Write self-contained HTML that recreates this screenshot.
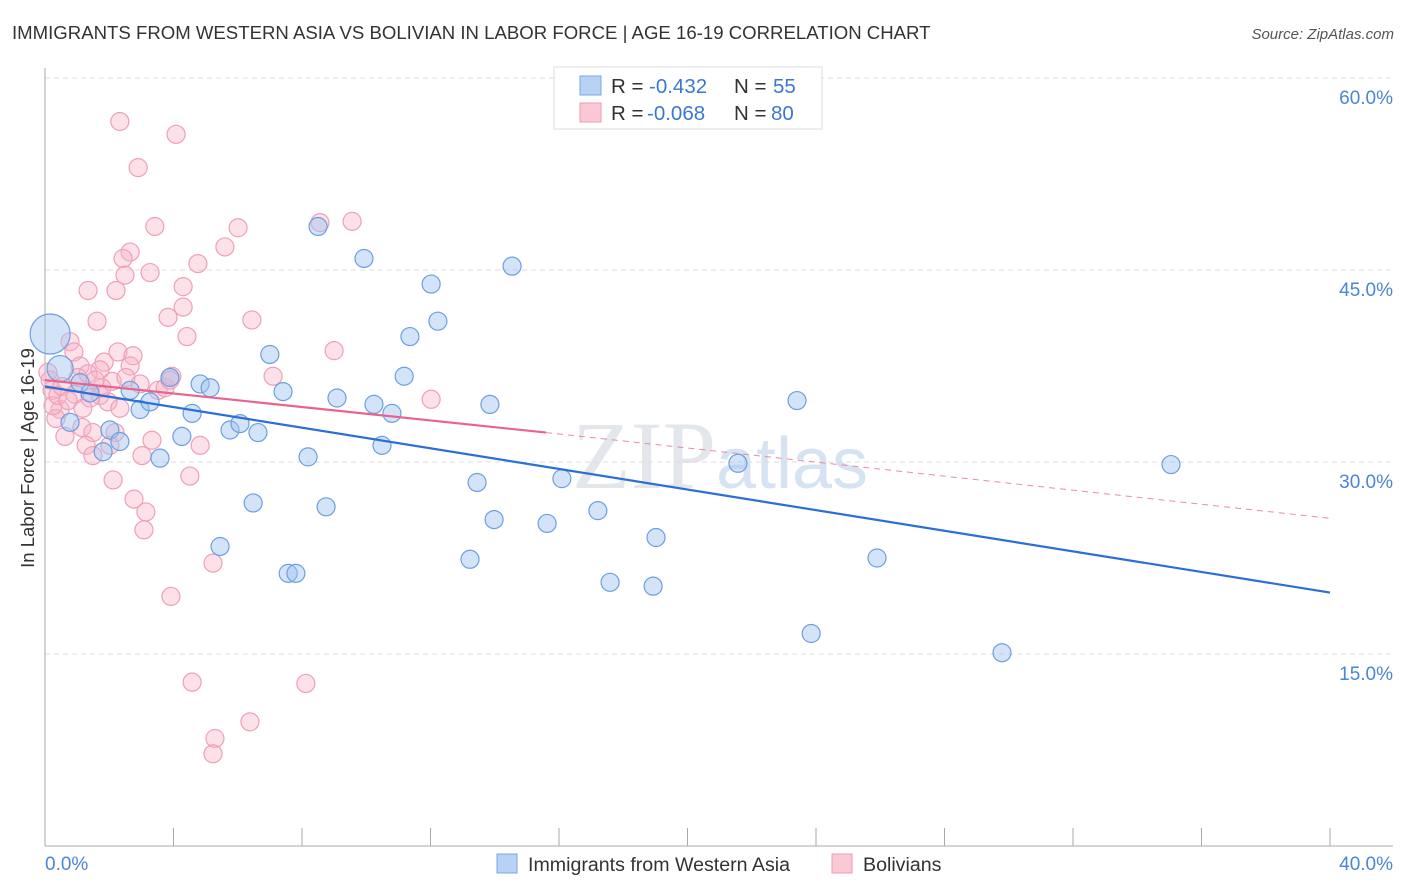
<!DOCTYPE html>
<html><head><meta charset="utf-8"><style>
body{margin:0;background:#fff;font-family:"Liberation Sans",sans-serif;}
svg{display:block}
</style></head><body>
<svg id="c" width="1406" height="892" xmlns="http://www.w3.org/2000/svg">
<text x="12" y="39" font-size="18.6" fill="#333">IMMIGRANTS FROM WESTERN ASIA VS BOLIVIAN IN LABOR FORCE | AGE 16-19 CORRELATION CHART</text>
<text x="1394" y="39" font-size="15" fill="#555" font-style="italic" text-anchor="end">Source: ZipAtlas.com</text>
<text x="720" y="488" font-size="96" fill="#d8dde4" text-anchor="middle" font-family="Liberation Serif,serif" opacity="0.7">ZIP<tspan fill="#c5d8ef" font-family="Liberation Sans,sans-serif" font-size="72">atlas</tspan></text>
<g id="grid"></g>
<g id="pts"></g>
<g id="trend"></g>
<text x="34" y="458" font-size="18.5" fill="#333" text-anchor="middle" transform="rotate(-90 34 458)">In Labor Force | Age 16-19</text>
<g>
<rect x="554" y="67" width="268" height="62" fill="#fff" stroke="#ddd"/>
<rect x="580" y="76" width="21" height="19" fill="#b8d2f5" stroke="#7aa7e6"/>
<rect x="580" y="103" width="21" height="19" fill="#fbc8d6" stroke="#ee9bb3"/>
<text x="611" y="93" font-size="20.5" fill="#333">R =<tspan x="649" fill="#3a78d4">-0.432</tspan><tspan x="734">N =</tspan><tspan x="773" fill="#3a78d4">55</tspan></text>
<text x="611" y="120" font-size="20.5" fill="#333">R =<tspan x="647" fill="#3a78d4">-0.068</tspan><tspan x="734">N =</tspan><tspan x="771" fill="#3a78d4">80</tspan></text>
</g>
<g>
<rect x="497" y="854" width="20" height="19" fill="#b8d2f5" stroke="#7aa7e6"/>
<text x="528" y="871" font-size="19.6" fill="#333">Immigrants from Western Asia</text>
<rect x="832" y="854" width="20" height="19" fill="#fbc8d6" stroke="#ee9bb3"/>
<text x="863" y="871" font-size="19.6" fill="#333">Bolivians</text>
</g>
</svg>
<script>
const blueX=[0.16,0.47,1.09,1.40,0.78,1.81,2.02,2.33,2.65,2.96,3.27,3.58,3.89,4.26,4.58,4.83,5.14,5.45,5.76,6.07,6.48,6.63,7.00,7.41,7.57,7.81,8.19,8.50,8.75,9.09,9.93,10.24,10.49,10.80,11.18,11.36,12.02,12.23,13.23,13.45,13.85,13.98,14.54,15.63,16.09,17.21,17.59,18.93,19.02,21.57,23.41,23.85,25.90,29.79,35.05];
const blueY=[40.0,37.3,36.2,35.4,33.1,30.8,32.5,31.6,35.6,34.1,34.7,30.3,36.6,32.0,33.8,36.1,35.8,23.4,32.5,33.0,26.8,32.3,38.4,35.5,21.3,21.3,30.4,48.4,26.5,35.0,45.9,34.5,31.3,33.8,36.7,39.8,43.9,41.0,22.4,28.4,34.5,25.5,45.3,25.2,28.7,26.2,20.6,20.3,24.1,29.9,34.8,16.6,22.5,15.1,29.8];
const pinkX=[2.33,2.90,4.08,3.42,2.65,2.43,2.49,3.27,2.21,1.34,4.76,5.60,6.01,8.56,9.56,4.30,4.30,3.83,1.62,6.44,4.42,0.78,0.90,1.84,2.27,2.74,2.65,1.71,1.09,1.03,1.34,2.09,2.52,2.96,3.52,3.74,1.71,1.96,1.40,1.18,0.47,0.34,0.22,0.16,0.09,0.25,0.62,1.15,1.49,1.28,1.49,2.18,2.02,3.02,3.33,4.83,4.51,2.12,2.77,3.14,3.08,5.23,3.92,4.58,8.12,6.38,5.29,5.23,9.00,7.10,12.02,3.95,3.89,0.40,0.93,1.77,2.33,0.53,1.56,0.72];
const pinkY=[56.6,53.0,55.6,48.4,46.4,45.9,44.6,44.8,43.4,43.4,45.5,46.8,48.3,48.7,48.8,43.7,42.1,41.3,41.0,41.1,39.8,39.4,38.6,37.8,38.6,38.3,37.5,37.2,37.5,36.6,36.9,36.3,36.6,36.1,35.6,35.8,35.2,34.7,35.0,34.2,34.1,33.4,35.6,36.4,37.0,34.4,32.0,32.7,32.3,31.3,30.5,32.3,31.3,30.5,31.7,31.3,28.9,28.6,27.1,26.1,24.7,22.1,19.5,12.8,12.7,9.7,8.4,7.2,38.7,36.7,34.9,36.7,36.4,35.2,35.3,35.8,34.2,35.9,36.4,34.8];
const yTicks=[15,30,45,60];
const yTickLabels=["15.0%","30.0%","45.0%","60.0%"];
const xTicks=[0,4,8,12,16,20,24,28,32,36,40];
const blueTrend=[[0,35.9],[40,19.8]];
const pinkTrendSolid=[[0,36.4],[15.6,32.3]];
const pinkTrendDash=[[15.6,32.3],[40,25.6]];
const NS="http://www.w3.org/2000/svg";
const X=v=>45+v*32.125, Y=v=>846-v*12.8;
function mk(t,a,p){const e=document.createElementNS(NS,t);for(const k in a)e.setAttribute(k,a[k]);p.appendChild(e);return e;}
const g=document.getElementById('grid');
yTicks.forEach((t,i)=>{
 const l=mk('line',{x1:45,x2:1393,y1:Y(t),y2:Y(t),stroke:'#ddd','stroke-dasharray':'5,4'},g);
 
 
 const tx=mk('text',{x:1393,y:Y(t)+26,'font-size':19,fill:'#4a86d8','text-anchor':'end'},g);
 tx.textContent=yTickLabels[i];
 
 
});
const l1=mk('line',{x1:45,x2:45,y1:68,y2:846,stroke:'#aaa'},g);


const l2=mk('line',{x1:45,x2:1393,y1:846,y2:846,stroke:'#aaa'},g);


xTicks.forEach(t=>{
 const tk=mk('line',{x1:X(t),x2:X(t),y1:828,y2:846,stroke:'#aaa'},g);
 
 
});
const xl=mk('text',{x:45,y:870,'font-size':19,fill:'#4a86d8'},g);xl.textContent='0.0%';


const xr=mk('text',{x:1393,y:870,'font-size':19,fill:'#4a86d8','text-anchor':'end'},g);xr.textContent='40.0%';


const P=document.getElementById('pts');
pinkX.forEach((x,i)=>{
 const c=mk('circle',{cx:X(x),cy:Y(pinkY[i]),r:9,fill:'rgba(248,180,200,0.4)',stroke:'#eea0b8','stroke-width':1.2},P);
 
 
});
blueX.forEach((x,i)=>{
 const r=i==0?20:(i==1?13:9);
 const c=mk('circle',{cx:X(x),cy:Y(blueY[i]),r:r,fill:'rgba(160,195,240,0.45)',stroke:'#6c9fe0','stroke-width':1.2},P);
 
 
});
const T=document.getElementById('trend');
const tb=mk('line',{x1:X(blueTrend[0][0]),y1:Y(blueTrend[0][1]),x2:X(blueTrend[1][0]),y2:Y(blueTrend[1][1]),stroke:'#2a6fd6','stroke-width':2.2},T);


const tp=mk('line',{x1:X(pinkTrendSolid[0][0]),y1:Y(pinkTrendSolid[0][1]),x2:X(pinkTrendSolid[1][0]),y2:Y(pinkTrendSolid[1][1]),stroke:'#e8648e','stroke-width':2.2},T);


const td=mk('line',{x1:X(pinkTrendDash[0][0]),y1:Y(pinkTrendDash[0][1]),x2:X(pinkTrendDash[1][0]),y2:Y(pinkTrendDash[1][1]),stroke:'#eb8aa8','stroke-width':1,'stroke-dasharray':'6,5'},T);


</script>
</body></html>
